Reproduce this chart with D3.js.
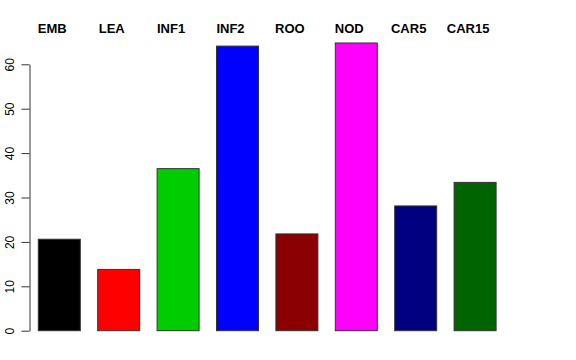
<!DOCTYPE html>
<html>
<head>
<meta charset="utf-8">
<script src="https://cdn.jsdelivr.net/npm/d3@7"></script>
<style>
  body { margin: 0; background: #fff; }
  svg { display: block; font-family: "Liberation Sans", Arial, sans-serif; }
</style>
</head>
<body>
<script>
// data
var categories = ["EMB", "LEA", "INF1", "INF2", "ROO", "NOD", "CAR5", "CAR15"];
var values     = [20.6, 13.8, 36.5, 64.1, 21.8, 64.8, 28.1, 33.4];
var barColors  = ["#000000", "#FF0000", "#00CD00", "#0000FF", "#8B0000", "#FF00FF", "#000080", "#006400"];
var yTicks     = [0, 10, 20, 30, 40, 50, 60];

var width = 576, height = 360;

var svg = d3.select("body").append("svg")
    .attr("width", width)
    .attr("height", height);

// scales - pixel extents
var x = d3.scaleBand()
    .domain(categories)
    .range([38.3, 496.1])
    .paddingInner(0.293)
    .paddingOuter(0);

var y = d3.scaleLinear()
    .domain([0, 60])
    .range([330.7, 64.3]);

// bars
svg.selectAll(".bar")
    .data(categories)
  .enter()
  .append("rect")
    .attr("class", "bar")
    .attr("x", function(d) { return x(d); })
    .attr("y", function(d, i) { return y(values[i]); })
    .attr("width", x.bandwidth())
    .attr("height", function(d, i) { return y(0) - y(values[i]); })
    .style("fill", function(d, i) { return barColors[i]; })
    .style("stroke", "#333")
    .style("stroke-width", 1);

// y axis, R style with rotated labels
var axis = svg.append("g")
    .attr("transform", "translate(29.5,0)")
    .call(d3.axisLeft(y).tickValues(yTicks).tickSize(8).tickSizeOuter(0).tickFormat(d3.format("d")));

axis.select(".domain").attr("stroke", "#333");
axis.selectAll(".tick line").attr("stroke", "#333");
axis.selectAll(".tick text")
    .attr("x", null).attr("dy", null)
    .attr("transform", "translate(-16,0) rotate(-90)")
    .attr("text-anchor", "middle")
    .style("font-family", "'Liberation Sans', Arial, sans-serif")
    .style("font-size", "12px")
    .style("fill", "#000");

// titles above each bar
svg.selectAll(".title")
    .data(categories)
  .enter()
  .append("text")
    .attr("class", "title")
    .attr("x", function(d) { return x(d) + x.bandwidth() / 2 - 7; })
    .attr("y", 33)
    .attr("text-anchor", "middle")
    .style("font-weight", "bold")
    .style("font-size", "13px")
    .text(function(d) { return d; });
</script>
</body>
</html>
